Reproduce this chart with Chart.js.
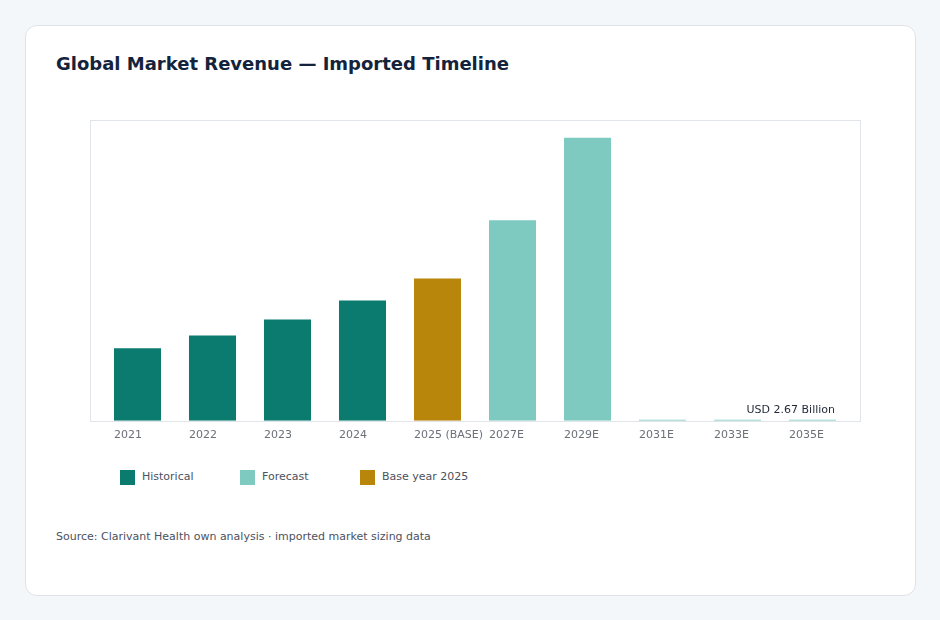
<!DOCTYPE html>
<html>
<head>
<meta charset="utf-8">
<script src="https://cdn.jsdelivr.net/npm/chart.js@4.4.1/dist/chart.umd.min.js"></script>
<style>
  body { margin: 0; background: #f4f7fa; font-family: "DejaVu Sans", sans-serif; }
  .card { position: absolute; left: 25px; top: 25px; width: 889px; height: 569px; background: #fff; border: 1px solid #dfe3e8; border-radius: 12px; }
  h1 { position: absolute; left: 56px; top: 52px; margin: 0; font-size: 18px; font-weight: bold; color: #14233c; line-height: 24px; }
  #wrap { position: absolute; left: 56px; top: 100px; width: 828px; height: 350px; }
  .legend { position: absolute; top: 469px; left: 120px; font-size: 11px; color: #4b5260; }
  .legend span { position: absolute; white-space: nowrap; line-height: 16px; }
  .legend i { position: absolute; top: 1px; width: 15px; height: 15px; }
  .source { position: absolute; left: 56px; top: 530px; font-size: 11px; color: #4b5260; }
</style>
</head>
<body>
<div class="card"></div>
<h1>Global Market Revenue — Imported Timeline</h1>
<div id="wrap"><canvas id="myBarChart"></canvas></div>
<div class="legend">
  <i style="left:0;background:#0b7b6f"></i><span style="left:22px">Historical</span>
  <i style="left:120px;background:#7ecac1"></i><span style="left:142px">Forecast</span>
  <i style="left:240px;background:#b8860b"></i><span style="left:262px">Base year 2025</span>
</div>
<div class="source">Source: Clarivant Health own analysis · imported market sizing data</div>
<script>
const labels = ['2021', '2022', '2023', '2024', '2025 (BASE)', '2027E', '2029E', '2031E', '2033E', '2035E'];
const revenue = [723, 850, 1010, 1200, 1420, 2000, 2823, 2.2, 2.45, 2.67];
const kinds = ['hist', 'hist', 'hist', 'hist', 'base', 'fc', 'fc', 'fc', 'fc', 'fc'];
const noteText = 'USD 2.67 Billion';
const noteIndex = 9;

const colors = { hist: '#0b7b6f', fc: '#7ecac1', base: '#b8860b' };

// frame drawn a bit wider than the plot area
const framePlugin = {
    id: 'frame',
    beforeDraw(chart) {
        const a = chart.chartArea;
        const ctx = chart.ctx;
        ctx.save();
        ctx.strokeStyle = '#e1e5ea';
        ctx.lineWidth = 1;
        ctx.strokeRect(Math.round(a.left - 10) + 0.5, Math.round(a.top) + 0.5, Math.round(a.width + 20), Math.round(a.bottom - a.top));
        ctx.restore();
    }
};

const notePlugin = {
    id: 'note',
    afterDatasetsDraw(chart) {
        const bar = chart.getDatasetMeta(0).data[noteIndex];
        const ctx = chart.ctx;
        ctx.save();
        ctx.font = '11px "DejaVu Sans", sans-serif';
        ctx.fillStyle = '#1f2937';
        ctx.textAlign = 'right';
        ctx.textBaseline = 'bottom';
        ctx.fillText(noteText, bar.x + bar.width / 2 - 1, bar.y - 4);
        ctx.restore();
    }
};

let myChart = document.getElementById('myBarChart').getContext('2d');
let chart = new Chart(myChart, {
    type: 'bar',
    data: {
        labels: labels,
        datasets: [{
            label: 'Revenue',
            data: revenue,
            backgroundColor: kinds.map(k => colors[k]),
            barPercentage: 0.627,
            categoryPercentage: 1,
            minBarLength: 1
        }]
    },
    options: {
        responsive: true,
        maintainAspectRatio: false,
        animation: false,
        layout: { padding: { left: 44, right: 34, top: 20, bottom: 0 } },
        plugins: { legend: { display: false }, tooltip: { enabled: false } },
        scales: {
            x: {
                grid: { display: false, drawTicks: false },
                border: { display: false },
                ticks: {
                    align: 'start',
                    labelOffset: -23.5,
                    padding: 8,
                    autoSkip: false,
                    maxRotation: 0,
                    color: '#6b7079',
                    font: { family: 'DejaVu Sans', size: 11 }
                }
            },
            y: { display: false, min: 0, max: 3000 }
        }
    },
    plugins: [framePlugin, notePlugin]
});
</script>
</body>
</html>
